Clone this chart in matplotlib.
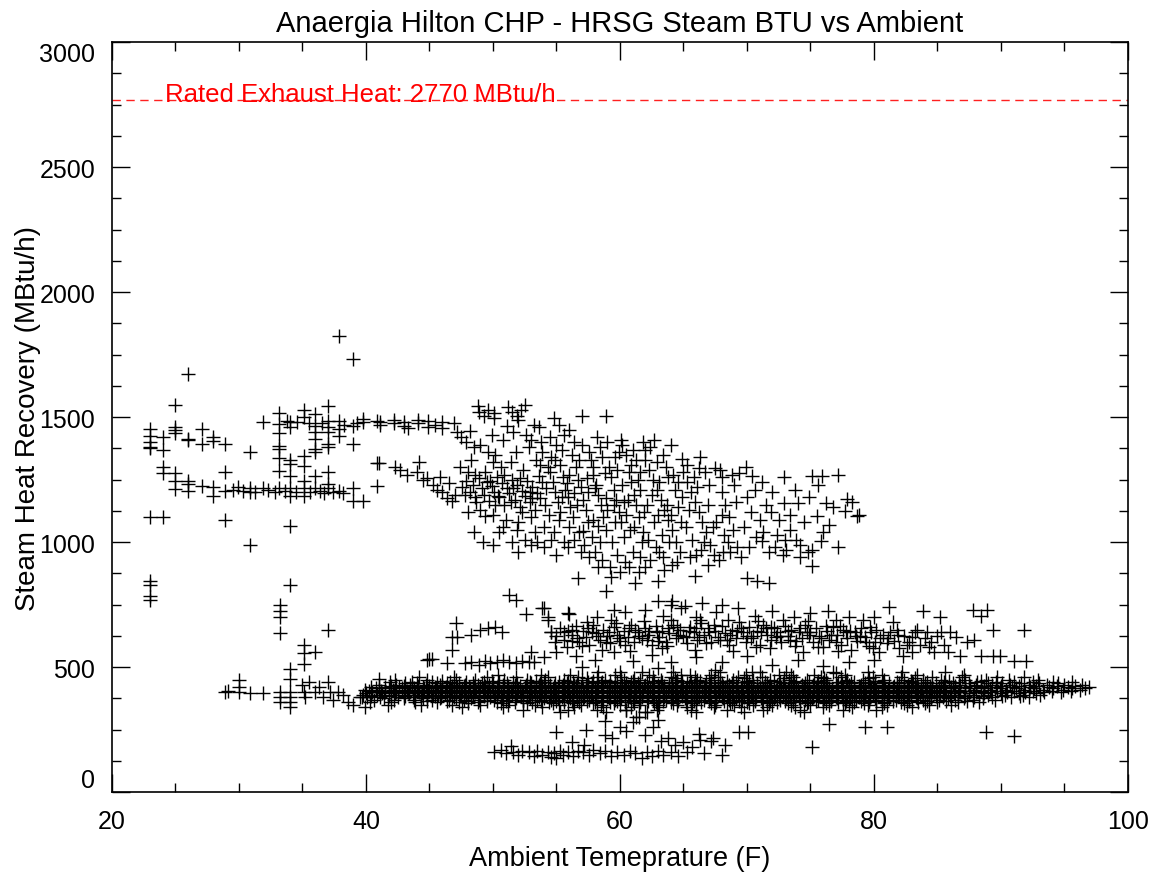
"""Anaergia Hilton CHP - HRSG steam heat recovery vs ambient temperature."""

import matplotlib
matplotlib.use("Agg")
import matplotlib.pyplot as plt

plt.rcParams["font.family"] = ["Liberation Sans", "DejaVu Sans"]

RATED_HEAT = 2770

# left clusters (23-41 F): (temp F, MBtu/h)
left_pts = [
    (23.0, 1452), (23.0, 1426), (23.0, 1399), (23.0, 1382), (23.0, 1376), (23.0, 1101),
    (23.0, 843), (23.0, 829), (23.0, 785), (23.0, 769),
    (24.0, 1422), (24.0, 1368), (24.0, 1301), (24.0, 1276), (24.0, 1101),
    (25.0, 1549), (25.0, 1459), (25.0, 1448), (25.0, 1435), (25.0, 1276), (25.0, 1245), (25.0, 1214),
    (26.0, 1674), (26.0, 1412), (26.0, 1408), (26.0, 1245), (26.0, 1231), (26.0, 1205),
    (27.05, 1452), (27.05, 1392), (27.05, 1225),
    (27.97, 1419), (27.97, 1406), (27.97, 1221), (27.97, 1185),
    (28.9, 1392), (28.9, 1281), (28.9, 1205), (28.9, 1088),
    (29.95, 1221), (30.9, 1362), (30.9, 1215), (30.9, 1200), (30.9, 990),
    (31.9, 1479), (31.9, 1215),
    (33.16, 1515), (33.16, 1472), (33.16, 1435), (33.16, 1385), (33.16, 1372), (33.16, 1335),
    (33.16, 1285), (33.16, 1215),
    (34.0, 1479), (34.0, 1459), (34.0, 1328), (34.0, 1312), (34.0, 1265), (34.0, 1215),
    (34.0, 1185), (34.0, 1064),
    (35.1, 1528), (35.1, 1500), (35.1, 1345), (35.1, 1305), (35.1, 1245), (35.1, 1215), (35.1, 1185),
    (36.0, 1512), (36.0, 1466), (36.0, 1439), (36.0, 1412), (36.0, 1372), (36.0, 1359),
    (36.0, 1265), (36.0, 1215),
    (37.0, 1546), (37.0, 1486), (37.0, 1459), (37.0, 1439), (37.0, 1392), (37.0, 1379),
    (37.0, 1281), (37.0, 1231), (37.0, 1215),
    (37.85, 1824), (37.85, 1486), (37.85, 1452), (37.85, 1426), (37.85, 1205),
    (38.99, 1734), (38.99, 1466), (38.99, 1392), (38.99, 1215), (38.99, 1165),
    (39.8, 1492), (39.8, 1479), (39.8, 1165),
    (40.9, 1486), (40.9, 1318), (40.9, 1225),
    (29.5, 1210), (30.3, 1205), (31.3, 1200), (32.3, 1210), (32.8, 1200), (33.6, 1205),
    (34.5, 1200), (35.6, 1200), (36.4, 1205), (36.7, 1195), (37.4, 1200), (38.2, 1195),
    (33.8, 1485), (34.6, 1480), (35.5, 1475), (36.5, 1478), (38.3, 1470), (39.3, 1475),
    (37.0, 647), (33.2, 750), (33.2, 725), (33.2, 700), (33.2, 635), (34.0, 828),
    (35.1, 588), (35.1, 555), (35.1, 514), (36.0, 559),
]

# upper cloud (40-79 F)
upper_pts = [
    (41.1, 1482), (41.1, 1470), (42.2, 1488), (42.2, 1475), (43.0, 1480), (43.0, 1465),
    (43.3, 1455), (44.1, 1490), (44.1, 1478), (44.9, 1485), (44.9, 1460), (45.4, 1470),
    (46.0, 1482), (46.0, 1455), (46.9, 1475), (47.2, 1440), (47.5, 1420), (47.9, 1400),
    (48.2, 1445), (48.5, 1380),
    (48.8, 1545), (48.9, 1520), (49.3, 1505), (49.6, 1530), (50.1, 1515), (50.1, 1495),
    (51.2, 1540), (51.5, 1520), (51.9, 1505), (52.2, 1530), (52.5, 1548), (52.0, 1490),
    (53.2, 1470), (53.6, 1460), (54.8, 1495), (55.2, 1470), (57.0, 1505), (58.9, 1505),
    (56.0, 1450), (55.6, 1430),
    (41.0, 1318), (42.3, 1300), (42.7, 1290), (43.2, 1270), (44.2, 1320), (44.5, 1250),
    (44.8, 1255), (45.3, 1230), (45.6, 1210), (46.0, 1200), (46.4, 1175), (46.8, 1165),
    (47.0, 1190), (45.8, 1260), (46.5, 1235), (44.0, 1280),
    (47.6, 1220), (47.9, 1245), (48.2, 1200), (48.4, 1230), (48.6, 1180), (48.9, 1255),
    (49.1, 1215), (49.3, 1190), (49.5, 1240), (49.7, 1165), (49.9, 1225), (50.1, 1200),
    (50.3, 1260), (50.5, 1180), (50.7, 1235), (50.9, 1150), (51.1, 1215), (51.3, 1195),
    (51.5, 1250), (51.7, 1170), (51.9, 1230), (52.1, 1140), (52.3, 1205), (52.5, 1185),
    (52.7, 1245), (52.9, 1160), (53.1, 1220), (53.3, 1130), (53.5, 1195), (53.7, 1175),
    (53.9, 1240), (54.1, 1150), (48.0, 1120), (49.0, 1130), (50.0, 1110), (51.0, 1090),
    (52.0, 1080), (53.0, 1100), (54.0, 1060), (49.4, 1280), (50.6, 1300), (51.4, 1320),
    (52.4, 1290), (53.4, 1330), (54.3, 1300), (50.2, 1350), (51.8, 1360), (52.8, 1380),
    (53.8, 1400), (49.0, 1390), (50.8, 1410), (51.6, 1440), (52.6, 1430), (53.0, 1410),
    (54.5, 1420), (55.0, 1390), (48.3, 1330), (49.6, 1360), (47.4, 1300), (48.0, 1280),
    (54.5, 1280), (54.7, 1240), (54.9, 1200), (55.1, 1160), (55.3, 1120), (55.5, 1260),
    (55.7, 1210), (55.9, 1180), (56.1, 1140), (56.3, 1100), (56.5, 1300), (56.7, 1250),
    (56.9, 1220), (57.1, 1170), (57.3, 1130), (57.5, 1080), (57.7, 1330), (57.9, 1270),
    (58.1, 1230), (58.3, 1190), (58.5, 1150), (58.7, 1100), (58.9, 1050), (59.1, 1300),
    (59.3, 1260), (59.5, 1210), (59.7, 1170), (59.9, 1120), (60.1, 1080), (60.3, 1020),
    (60.5, 1350), (60.7, 1280), (60.9, 1240), (61.1, 1190), (61.3, 1150), (61.5, 1100),
    (61.7, 1000), (54.6, 1340), (55.4, 1370), (56.2, 1350), (57.0, 1390), (57.6, 1360),
    (58.4, 1380), (59.0, 1400), (59.6, 1340), (60.2, 1390), (61.0, 1370), (61.8, 1400),
    (62.4, 1380), (62.7, 1407), (60.1, 1407),
    (54.8, 1040), (55.6, 1000), (56.4, 1010), (57.2, 990), (58.0, 960), (58.6, 930),
    (59.2, 900), (59.8, 950), (60.4, 920), (61.0, 960), (61.6, 940), (55.2, 1090),
    (56.0, 1060), (56.8, 1040), (57.8, 1020), (58.4, 1000), (59.4, 1000), (60.8, 1050),
    (53.5, 1000), (52.5, 1010), (51.5, 1000), (50.5, 1040), (50.0, 990), (52.0, 960),
    (53.0, 990), (54.0, 980), (55.0, 950), (49.2, 1000), (48.5, 1040),
    (62.0, 1330), (62.3, 1290), (62.6, 1250), (62.9, 1210), (63.2, 1170), (63.5, 1130),
    (63.8, 1090), (64.1, 1050), (64.4, 1000), (64.7, 960), (65.0, 1280), (65.3, 1240),
    (65.6, 1200), (65.9, 1160), (66.2, 1120), (66.5, 1080), (66.8, 1040), (67.1, 990),
    (67.4, 950), (62.2, 1010), (62.8, 980), (63.4, 940), (63.9, 1000), (64.6, 1140),
    (65.2, 1060), (66.0, 950), (66.6, 1000), (67.0, 1230), (67.5, 1298), (66.2, 1298),
    (64.9, 1331), (63.8, 1260), (68.0, 1200), (68.3, 1150), (68.6, 1100), (68.9, 1050),
    (69.2, 980), (69.5, 940), (69.4, 1278), (70.4, 1265), (70.0, 1180), (70.3, 1120),
    (70.7, 1020), (71.0, 1090), (71.2, 1005), (71.7, 960), (72.2, 980), (72.8, 950),
    (73.4, 1110), (73.4, 1050), (72.9, 1158), (74.0, 1158), (74.2, 990), (75.1, 1265),
    (75.9, 1265), (75.5, 1105), (76.5, 1070), (76.2, 1158), (75.8, 1005), (75.1, 970),
    (75.1, 905), (77.7, 1125), (77.9, 1171), (78.7, 1105), (78.3, 1160),
    (70.0, 855), (70.8, 845), (71.7, 835), (56.7, 855), (58.9, 805), (61.2, 835),
    (63.0, 843), (65.9, 865), (62.0, 900), (63.5, 890), (64.5, 920), (67.8, 930),
    (68.5, 1000), (71.5, 1150), (72.0, 1200), (69.0, 1230), (68.0, 1260),
    (51.3, 790), (51.8, 770), (52.6, 712), (53.9, 736), (54.3, 688), (56.0, 712),
    (59.5, 727), (63.0, 764), (64.0, 750), (65.1, 744),
    (50.4, 1185), (51.6, 1215), (49.8, 1245), (52.9, 1200), (53.6, 1265), (54.2, 1215),
    (50.9, 1270), (51.4, 1160), (52.3, 1120), (53.1, 1175), (54.4, 1110), (55.8, 1235),
    (56.4, 1195), (57.4, 1255), (58.0, 1215), (58.8, 1275), (59.5, 1150), (60.2, 1230),
    (60.6, 1170), (61.4, 1250), (61.9, 1120), (62.5, 1190), (63.1, 1240), (63.7, 1150),
    (64.3, 1210), (64.8, 1080), (65.4, 1130), (66.1, 1220), (66.9, 1150), (67.6, 1080),
    (68.2, 1030), (69.1, 1160), (70.2, 980), (71.3, 1040), (72.5, 1090), (73.9, 1010),
    (74.8, 960), (55.3, 1310), (56.0, 1270), (56.8, 1330), (57.9, 1300), (58.6, 1340),
    (59.8, 1290), (60.9, 1310), (61.6, 1280), (62.9, 1320), (63.6, 1300), (64.2, 1270),
    (65.8, 1260), (66.7, 1280), (57.1, 1045), (57.9, 1090), (58.3, 1065), (59.0, 1130),
    (59.6, 1080), (60.5, 1110), (61.1, 1060), (61.8, 1040), (62.7, 1080), (63.3, 1030),
    (64.0, 1110), (64.9, 1180), (65.7, 1010), (66.4, 970), (67.3, 1060), (68.0, 1110),
    (68.7, 960), (69.8, 1060), (70.6, 1210), (71.9, 1120), (72.4, 1030), (73.1, 970),
    (74.5, 1080), (76.0, 1040), (77.2, 980), (50.2, 1150), (49.4, 1105), (48.7, 1160),
    (47.8, 1190), (50.8, 1060), (51.9, 1050), (53.3, 1040), (54.6, 1010), (55.9, 980),
    (56.9, 960), (57.6, 940), (58.3, 900), (59.3, 860), (60.0, 880), (60.7, 900),
    (61.5, 880), (62.4, 930), (63.1, 960), (64.1, 910), (65.5, 940), (66.9, 910),
    (68.1, 960), (55.4, 1180), (56.6, 1150), (57.5, 1200), (58.9, 1175), (60.3, 1160),
    (61.6, 1210), (62.1, 1150), (63.0, 1110), (64.6, 1240), (53.7, 1310), (52.1, 1255),
    (50.0, 1320), (48.6, 1270), (49.9, 1430), (51.1, 1465), (53.9, 1360), (54.9, 1330),
    (56.4, 1400), (58.2, 1420), (59.9, 1360), (61.3, 1330), (62.0, 1370), (63.4, 1350),
    (64.0, 1390), (65.3, 1310), (66.3, 1340), (67.9, 1290), (68.8, 1270), (69.9, 1300),
    (71.2, 1240), (72.9, 1260), (73.8, 1210), (74.9, 1180), (76.8, 1140), (78.8, 1110),
    (77.2, 1270), (75.6, 1230), (73.0, 1010), (74.2, 940),
]

# ~600 MBtu/h band and the ~520 shelf
mid_pts = [
    (54.6, 640), (54.9, 600), (55.3, 655), (55.6, 610), (55.8, 580), (56.2, 630), (56.5, 665),
    (56.8, 600), (57.1, 645), (57.3, 620), (57.6, 590), (57.9, 670), (58.1, 635), (58.4, 610),
    (58.7, 650), (59.0, 625), (59.2, 595), (59.5, 660), (59.8, 630), (60.0, 605), (60.3, 645),
    (60.6, 620), (60.9, 670), (61.1, 600), (61.4, 640), (61.7, 615), (62.0, 655), (62.2, 630),
    (62.5, 590), (62.8, 665), (63.1, 620), (63.3, 645), (63.6, 600), (63.9, 635), (64.2, 670),
    (64.4, 615), (64.7, 650), (65.0, 625), (65.3, 595), (65.5, 660), (65.8, 640), (66.1, 610),
    (66.4, 675), (66.6, 630), (66.9, 655), (67.2, 600), (67.5, 645), (67.7, 620), (68.0, 665),
    (68.3, 635), (68.6, 590), (68.8, 650), (69.1, 615), (69.4, 680), (69.7, 640), (69.9, 600),
    (70.2, 660), (70.5, 625), (70.8, 645), (71.0, 590), (71.3, 670), (71.6, 630), (71.9, 610),
    (72.1, 655), (72.4, 640), (72.7, 600), (73.0, 665), (73.2, 625), (73.5, 650), (73.8, 585),
    (74.1, 640), (74.3, 615), (74.6, 670), (74.9, 630), (75.2, 600), (75.4, 655), (75.7, 625),
    (76.0, 580), (76.3, 645), (76.5, 610), (76.8, 660), (77.1, 630), (77.4, 590), (77.6, 650),
    (77.9, 615), (78.2, 570), (78.5, 640), (78.7, 605), (79.0, 655), (79.3, 620), (79.6, 585),
    (79.8, 640), (80.1, 600), (80.4, 560), (80.7, 630), (81.0, 595), (81.3, 640), (81.6, 605),
    (82.0, 575), (82.4, 625), (82.8, 600), (83.2, 640), (83.6, 590), (84.0, 615), (84.5, 600),
    (85.0, 625), (85.5, 590),
    (55.0, 625), (55.9, 645), (56.6, 615), (57.5, 655), (58.3, 625), (59.1, 640), (59.9, 615),
    (60.7, 655), (61.5, 625), (62.3, 645), (63.0, 605), (63.8, 655), (64.6, 630), (65.4, 645),
    (66.2, 620), (67.0, 640), (67.9, 610), (68.7, 630), (69.5, 655), (70.3, 615), (71.1, 640),
    (71.9, 660), (72.6, 625), (73.4, 610), (74.2, 655), (75.0, 640), (75.8, 615), (76.6, 630),
    (77.3, 665), (78.1, 645), (78.9, 625), (79.7, 660), (80.5, 615), (81.8, 650), (83.0, 620),
    (84.2, 640),
    (56.2, 605), (57.0, 585), (57.8, 640), (58.9, 600), (59.7, 675), (60.4, 590), (61.2, 650),
    (62.1, 610), (62.9, 640), (63.7, 585), (64.5, 660), (65.2, 620), (66.0, 655), (66.8, 595),
    (67.4, 670), (68.4, 610), (69.2, 645), (70.0, 625), (70.7, 580), (71.5, 655), (72.3, 620),
    (73.2, 645), (73.9, 605), (74.7, 640), (75.6, 580), (76.2, 665), (77.0, 600), (77.8, 640),
    (78.6, 625), (79.4, 600), (80.2, 650), (81.1, 615), (81.9, 630), (82.6, 590), (83.4, 650),
    (84.3, 580), (85.3, 640), (58.6, 570), (60.8, 565), (63.3, 575), (65.9, 570), (68.9, 565),
    (71.8, 575), (74.4, 560), (77.2, 565), (79.9, 575), (57.4, 680), (59.3, 690), (61.9, 685),
    (64.0, 690), (66.3, 690), (68.5, 690), (70.9, 685), (72.8, 690), (74.8, 685), (77.0, 690),
    (79.1, 690), (81.5, 680),
    (58.2, 700), (60.4, 720), (62.0, 730), (63.4, 705), (64.8, 735), (66.0, 700), (67.6, 720),
    (69.3, 735), (70.6, 705), (72.0, 725), (73.7, 700), (75.0, 715), (76.4, 725), (78.0, 700),
    (80.0, 700), (81.2, 740), (83.9, 724), (85.2, 700), (87.8, 727), (88.9, 727), (88.4, 705),
    (68.0, 748), (66.5, 756), (64.1, 765),
    (86.0, 640), (86.8, 543), (87.3, 600), (87.9, 610), (88.4, 543), (89.4, 647), (91.8, 647),
    (89.4, 543), (89.9, 543), (91.0, 523), (92.0, 523), (86.5, 620), (85.8, 560), (84.7, 560),
    (83.0, 560), (82.3, 545),
    (54.0, 540), (55.0, 560), (56.5, 545), (58.0, 530), (59.5, 560), (61.0, 525), (62.5, 550),
    (64.0, 520), (66.0, 540), (68.0, 520), (70.0, 545), (72.0, 510), (74.0, 530), (76.0, 505),
    (78.0, 520), (80.0, 530), (57.0, 500), (60.0, 480), (63.0, 495), (65.5, 470), (67.5, 490),
    (71.0, 480), (73.5, 470), (77.0, 475),
    (47.8, 515), (48.3, 520), (48.9, 510), (49.4, 525), (49.8, 515), (50.3, 520), (50.8, 530),
    (51.3, 520), (51.8, 515), (52.3, 525), (52.8, 520), (53.2, 520), (45.0, 531), (45.2, 531),
    (44.8, 528), (46.4, 515), (49.0, 650), (49.6, 655), (50.2, 660), (50.7, 640), (48.3, 630),
    (47.2, 620), (47.1, 676), (46.8, 620), (46.8, 570), (53.0, 560), (54.0, 736), (54.3, 700),
    (55.9, 716), (54.6, 640), (55.6, 640), (56.2, 647),
]

# sparse start of the ~400 band (29-41 F)
base_left_pts = [
    (28.9, 400), (29.1, 405), (30.0, 447), (30.0, 421), (30.0, 401), (30.9, 395), (31.9, 395),
    (33.2, 402), (33.2, 382), (33.2, 362), (34.0, 494), (34.0, 454), (34.0, 402), (34.0, 382),
    (34.0, 362), (34.0, 342), (35.0, 430), (35.1, 400), (35.2, 380), (35.5, 440), (36.0, 400),
    (36.3, 420), (36.6, 380), (37.0, 440), (37.2, 400), (37.4, 370), (37.8, 400), (38.2, 390),
    (38.6, 360), (39.0, 350), (39.5, 380), (39.9, 340), (40.1, 380), (41.0, 452),
]

# dense ~400 band: one list of temperatures per MBtu/h level
band_levels = [480, 470, 460, 455, 450, 445, 440, 435, 430, 425, 420, 415, 410, 405, 400,
               395, 390, 385, 380, 375, 370, 365, 360, 355, 350, 340, 330, 320]
band_temps = [
    [58.3, 61.7, 64.2, 67.9, 70.4, 73.1, 76.8, 79.5, 82.2, 85.6],
    [50.4, 53.8, 56.1, 59.6, 62.3, 64.8, 67.2, 69.9, 72.5, 75.3, 77.7, 80.6, 83.4, 87.1],
    [44.2, 46.9, 49.5, 51.8, 54.3, 56.7, 58.2, 60.1, 62.6, 64.0, 65.9, 67.7, 69.3, 71.2, 73.6,
     75.8, 77.4, 79.9, 82.1, 84.6, 86.9, 89.7, 91.8],
    [57.4, 61.1, 64.3, 67.0, 69.8, 72.9, 76.1, 79.6, 83.2],
    [42.3, 44.8, 47.1, 48.6, 50.9, 52.7, 54.1, 55.6, 57.0, 58.8, 60.3, 61.6, 63.2, 64.5, 66.1,
     67.4, 68.9, 70.5, 71.8, 73.3, 74.7, 76.2, 77.9, 79.1, 80.8, 82.4, 83.9, 85.3, 87.2, 88.8,
     90.6, 92.9],
    [46.0, 49.9, 53.4, 55.9, 57.9, 59.2, 61.0, 62.7, 64.9, 66.3, 68.4, 70.0, 72.1, 73.9, 75.6,
     77.8, 80.1, 82.9, 85.9, 88.4],
    [41.9, 43.6, 45.2, 46.6, 47.9, 49.3, 50.5, 51.6, 52.9, 54.0, 55.2, 56.3, 57.5, 58.6, 59.8,
     60.9, 62.1, 63.3, 64.4, 65.6, 66.8, 67.9, 69.1, 70.2, 71.4, 72.6, 73.7, 74.9, 76.0, 77.2,
     78.4, 79.5, 80.7, 81.8, 83.0, 84.2, 85.5, 86.7, 88.1, 89.6, 91.0, 92.5, 94.1, 95.6],
    [43.1, 44.0, 45.6, 46.4, 47.3, 48.4, 49.1, 50.0, 51.1, 51.9, 53.0, 53.7, 54.9, 55.8, 56.6,
     57.8, 58.5, 59.6, 60.5, 61.4, 62.5, 63.2, 64.1, 65.3, 66.0, 67.1, 68.0, 68.8, 70.0, 70.8,
     71.6, 72.8, 73.5, 74.6, 75.5, 76.3, 77.5, 78.2, 79.3, 80.1, 81.2, 82.0, 83.1, 84.0, 84.9,
     86.2, 87.5, 89.0, 90.1, 91.6, 93.0, 94.5],
    [41.0, 42.4, 43.5, 44.7, 45.8, 46.9, 47.8, 48.8, 49.7, 50.8, 51.7, 52.6, 53.6, 54.5, 55.5,
     56.4, 57.3, 58.3, 59.2, 60.2, 61.1, 62.0, 63.0, 63.9, 64.9, 65.8, 66.7, 67.7, 68.6, 69.6,
     70.5, 71.4, 72.4, 73.3, 74.3, 75.2, 76.1, 77.1, 78.0, 79.0, 79.9, 80.8, 81.8, 82.7, 83.7,
     84.6, 85.6, 86.8, 88.0, 89.3, 90.7, 92.2, 93.6, 95.0, 96.4],
    [42.0, 43.0, 44.1, 45.0, 46.0, 46.8, 47.7, 48.5, 49.4, 50.4, 51.2, 52.1, 52.9, 53.9, 54.8,
     55.6, 56.5, 57.5, 58.2, 59.1, 60.0, 60.9, 61.9, 62.6, 63.5, 64.5, 65.4, 66.2, 67.2, 68.1,
     68.9, 69.9, 70.8, 71.7, 72.5, 73.5, 74.3, 75.3, 76.2, 77.0, 78.0, 78.8, 79.7, 80.6, 81.6,
     82.4, 83.4, 84.4, 85.3, 86.4, 87.6, 88.7, 90.0, 91.4, 92.8, 94.4, 95.8],
    [40.4, 41.5, 42.6, 43.6, 44.5, 45.4, 46.3, 47.2, 48.1, 49.0, 49.9, 50.8, 51.6, 52.5, 53.4,
     54.3, 55.1, 56.0, 56.9, 57.8, 58.7, 59.5, 60.4, 61.3, 62.2, 63.1, 63.9, 64.8, 65.7, 66.6,
     67.5, 68.3, 69.2, 70.1, 71.0, 71.9, 72.7, 73.6, 74.5, 75.4, 76.3, 77.1, 78.0, 78.9, 79.8,
     80.7, 81.5, 82.4, 83.3, 84.2, 85.1, 86.1, 87.2, 88.4, 89.6, 90.9, 92.3, 93.8, 95.3, 96.9],
    [40.8, 41.8, 42.8, 43.8, 44.6, 45.5, 46.5, 47.3, 48.2, 49.2, 50.0, 50.9, 51.9, 52.7, 53.6,
     54.5, 55.4, 56.2, 57.1, 58.0, 59.0, 59.8, 60.6, 61.5, 62.4, 63.4, 64.2, 65.0, 66.0, 66.8,
     67.7, 68.6, 69.5, 70.3, 71.3, 72.1, 73.0, 73.9, 74.7, 75.6, 76.5, 77.4, 78.2, 79.1, 80.0,
     80.9, 81.8, 82.6, 83.5, 84.4, 85.4, 86.4, 87.5, 88.7, 89.9, 91.2, 92.6, 94.1, 95.6, 96.6],
    [39.9, 41.0, 42.1, 43.1, 44.0, 44.9, 45.8, 46.7, 47.6, 48.5, 49.4, 50.3, 51.2, 52.0, 52.9,
     53.8, 54.7, 55.6, 56.4, 57.3, 58.2, 59.1, 60.0, 60.8, 61.7, 62.6, 63.5, 64.4, 65.2, 66.1,
     67.0, 67.9, 68.8, 69.6, 70.5, 71.4, 72.3, 73.2, 74.0, 74.9, 75.8, 76.7, 77.6, 78.4, 79.3,
     80.2, 81.1, 82.0, 82.8, 83.7, 84.6, 85.6, 86.7, 87.9, 89.1, 90.4, 91.8, 93.3, 94.9, 96.2],
    [40.2, 41.2, 42.2, 43.2, 44.1, 45.0, 45.9, 46.8, 47.8, 48.7, 49.6, 50.5, 51.4, 52.3, 53.2,
     54.1, 55.0, 55.9, 56.8, 57.7, 58.6, 59.4, 60.3, 61.2, 62.1, 63.0, 63.8, 64.7, 65.6, 66.5,
     67.4, 68.3, 69.1, 70.0, 70.9, 71.8, 72.7, 73.6, 74.4, 75.3, 76.2, 77.1, 78.0, 78.8, 79.7,
     80.6, 81.5, 82.4, 83.2, 84.1, 85.0, 86.1, 87.2, 88.4, 89.7, 91.0, 92.5, 94.0, 95.5],
    [40.5, 41.5, 42.4, 43.3, 44.2, 45.1, 46.0, 46.9, 47.7, 48.6, 49.5, 50.4, 51.3, 52.1, 53.0,
     53.9, 54.8, 55.7, 56.5, 57.4, 58.3, 59.2, 60.1, 60.9, 61.8, 62.7, 63.6, 64.5, 65.3, 66.2,
     67.1, 68.0, 68.9, 69.7, 70.6, 71.5, 72.4, 73.3, 74.1, 75.0, 75.9, 76.8, 77.7, 78.5, 79.4,
     80.3, 81.2, 82.1, 82.9, 83.8, 84.7, 85.7, 86.8, 88.0, 89.2, 90.5, 91.9, 93.4, 94.7],
    [40.0, 41.3, 42.3, 43.4, 44.4, 45.3, 46.2, 47.1, 48.0, 48.9, 49.8, 50.6, 51.5, 52.4, 53.3,
     54.2, 55.1, 56.0, 56.9, 57.8, 58.7, 59.6, 60.4, 61.3, 62.2, 63.1, 64.0, 64.9, 65.8, 66.6,
     67.5, 68.4, 69.3, 70.2, 71.1, 71.9, 72.8, 73.7, 74.6, 75.5, 76.4, 77.2, 78.1, 79.0, 79.9,
     80.8, 81.7, 82.6, 83.4, 84.3, 85.2, 86.3, 87.5, 88.7, 90.0, 91.4, 92.8],
    [39.8, 40.9, 42.0, 43.0, 43.9, 44.8, 45.7, 46.6, 47.5, 48.4, 49.3, 50.2, 51.1, 51.9, 52.8,
     53.7, 54.6, 55.5, 56.3, 57.2, 58.1, 59.0, 59.9, 60.7, 61.6, 62.5, 63.4, 64.3, 65.1, 66.0,
     66.9, 67.8, 68.7, 69.5, 70.4, 71.3, 72.2, 73.1, 73.9, 74.8, 75.7, 76.6, 77.5, 78.3, 79.2,
     80.1, 81.0, 81.9, 82.7, 83.6, 84.5, 85.5, 86.6, 87.8, 89.0, 90.3, 91.7, 93.1],
    [40.4, 41.8, 43.1, 44.3, 45.4, 46.4, 47.4, 48.4, 49.3, 50.3, 51.2, 52.2, 53.1, 54.0, 54.9,
     55.8, 56.8, 57.7, 58.6, 59.5, 60.4, 61.3, 62.2, 63.1, 64.0, 64.9, 65.8, 66.7, 67.6, 68.5,
     69.4, 70.3, 71.2, 72.1, 73.0, 73.9, 74.8, 75.7, 76.6, 77.5, 78.4, 79.3, 80.2, 81.1, 82.0,
     82.9, 83.9, 84.9, 86.0, 87.2, 88.6, 90.1, 91.5],
    [39.7, 41.1, 42.5, 43.7, 44.8, 45.9, 46.9, 47.9, 48.9, 49.8, 50.8, 51.7, 52.7, 53.6, 54.5,
     55.4, 56.3, 57.2, 58.1, 59.0, 59.9, 60.8, 61.7, 62.6, 63.5, 64.4, 65.3, 66.2, 67.1, 68.0,
     68.9, 69.8, 70.7, 71.6, 72.5, 73.4, 74.3, 75.2, 76.1, 77.0, 77.9, 78.8, 79.7, 80.6, 81.5,
     82.4, 83.3, 84.3, 85.4, 86.6, 87.9, 89.3, 90.8, 92.2],
    [41.4, 43.0, 44.5, 45.8, 47.1, 48.3, 49.5, 50.7, 51.8, 52.9, 54.0, 55.1, 56.1, 57.1, 58.1,
     59.1, 60.1, 61.1, 62.1, 63.1, 64.1, 65.1, 66.1, 67.1, 68.1, 69.1, 70.1, 71.1, 72.1, 73.1,
     74.1, 75.1, 76.1, 77.1, 78.1, 79.1, 80.1, 81.2, 82.3, 83.4, 84.5, 85.8, 87.1, 88.6],
    [40.6, 42.2, 43.8, 45.2, 46.5, 47.7, 48.9, 50.1, 51.3, 52.4, 53.5, 54.6, 55.6, 56.6, 57.6,
     58.6, 59.6, 60.6, 61.6, 62.6, 63.6, 64.6, 65.6, 66.6, 67.6, 68.6, 69.6, 70.6, 71.6, 72.6,
     73.6, 74.6, 75.6, 76.6, 77.6, 78.6, 79.6, 80.6, 81.7, 82.8, 83.9, 85.1, 86.4, 87.8, 89.5],
    [44.8, 46.4, 48.0, 49.5, 51.0, 52.4, 53.8, 55.0, 56.2, 57.4, 58.6, 59.8, 61.0, 62.2, 63.4,
     64.6, 65.8, 67.0, 68.2, 69.4, 70.6, 71.8, 73.0, 74.2, 75.4, 76.6, 77.8, 79.0, 80.2, 81.5,
     82.8, 84.2, 85.7, 87.3],
    [40.3, 42.0, 43.9, 45.6, 47.3, 48.8, 50.3, 51.7, 53.1, 54.4, 55.6, 56.8, 58.0, 59.2, 60.4,
     61.6, 62.8, 64.0, 65.2, 66.4, 67.6, 68.8, 70.0, 71.2, 72.4, 73.6, 74.8, 76.0, 77.2, 78.4,
     79.6, 80.8, 82.1, 83.5, 85.0, 86.6, 88.3],
    [48.0, 50.6, 52.7, 54.7, 56.3, 57.9, 59.5, 61.1, 62.7, 64.2, 65.7, 67.2, 68.7, 70.2, 71.7,
     73.2, 74.7, 76.2, 77.7, 79.2, 80.8, 82.4, 84.0],
    [41.7, 44.3, 46.8, 49.0, 51.2, 53.3, 55.2, 56.9, 58.5, 60.0, 61.5, 63.0, 64.5, 66.0, 67.5,
     69.0, 70.5, 72.0, 73.5, 75.0, 76.5, 78.0, 79.5, 81.0, 82.6, 84.3, 86.1],
    [47.6, 50.8, 53.9, 56.4, 58.7, 60.9, 63.1, 65.3, 67.4, 69.5, 71.6, 73.8, 76.0, 78.3, 80.6, 83.0],
    [52.4, 55.9, 58.2, 60.5, 62.9, 65.6, 68.4, 71.3, 74.2, 77.6, 80.2],
    [55.3, 58.9, 62.1, 66.0, 69.8, 74.5],
]

# lowest band (~160) and the scatter between it and the ~400 band
low_pts = [
    (50.1, 160), (50.6, 170), (51.0, 155), (51.4, 185), (51.6, 160), (52.0, 150), (52.3, 165),
    (52.8, 160), (53.2, 145), (53.5, 165), (53.9, 150), (54.3, 160), (54.6, 140), (54.8, 155),
    (55.0, 135), (55.3, 165), (55.5, 150), (55.9, 160), (56.3, 145), (56.7, 165), (57.1, 160),
    (57.6, 150), (57.9, 170), (58.4, 155), (58.8, 165), (59.3, 145), (59.8, 160), (60.3, 150),
    (60.8, 165), (61.2, 155), (61.7, 135), (62.1, 160), (62.5, 145), (63.0, 165), (63.4, 150),
    (64.0, 160), (64.6, 145), (65.3, 160), (66.6, 155), (68.0, 150),
    (56.2, 200), (57.2, 190), (58.8, 230), (59.4, 215), (60.0, 260), (60.5, 245), (61.0, 280),
    (61.5, 300), (62.0, 230), (62.6, 260), (63.2, 205), (63.8, 215), (64.3, 190), (65.0, 200),
    (65.7, 180), (66.3, 210), (67.3, 215), (68.3, 190), (70.1, 241), (57.3, 247), (58.8, 284),
    (55.0, 240), (60.5, 330), (62.0, 320), (63.0, 290), (61.3, 300), (66.2, 233), (67.2, 205),
    (69.4, 241), (75.1, 181), (76.5, 273), (79.3, 261), (81.0, 262), (88.8, 241), (91.0, 225),
]

fig = plt.figure(figsize=(11.52, 8.78), dpi=100)
ax = fig.add_axes([0.0972, 0.0968, 0.8819, 0.8542])

mark = dict(linestyle="none", marker="+", color="black", markersize=9.5, markeredgewidth=1.0)
for pts in (left_pts, upper_pts, mid_pts, base_left_pts, low_pts):
    ax.plot([p[0] for p in pts], [p[1] for p in pts], **mark)
for level, temps in zip(band_levels, band_temps):
    ax.plot(temps, [level] * len(temps), **mark)

ax.axhline(RATED_HEAT, color="#ff2020", linestyle=(0, (6, 4)), linewidth=1.0)
ax.text(24.2, RATED_HEAT - 5, "Rated Exhaust Heat: 2770 MBtu/h", color="#ff0000",
        fontsize=18.5, va="baseline")

ax.set_xlim(20, 100)
ax.set_ylim(0, 3000)
ax.set_xticks([20, 40, 60, 80, 100])
ax.set_xticks(range(20, 101, 5), minor=True)
ax.set_yticks(range(0, 3001, 500))
ax.set_yticks(range(0, 3001, 125), minor=True)
ax.tick_params(which="both", direction="in", top=True, right=True, labelsize=18)
ax.tick_params(which="major", length=13, width=1.0)
ax.tick_params(which="minor", length=6.5, width=1.0)
ax.tick_params(axis="x", pad=12)
ax.tick_params(axis="y", pad=12)
for s in ax.spines.values():
    s.set_linewidth(1.2)

ylabels = ax.get_yticklabels()
ylabels[0].set_va("bottom")
ylabels[-1].set_va("top")

ax.set_title("Anaergia Hilton CHP - HRSG Steam BTU vs Ambient", fontsize=21, pad=8)
ax.set_xlabel("Ambient Temeprature (F)", fontsize=19.5, labelpad=9)
ax.set_ylabel("Steam Heat Recovery (MBtu/h)", fontsize=20, labelpad=-1)

fig.savefig("out.png", dpi=100)
